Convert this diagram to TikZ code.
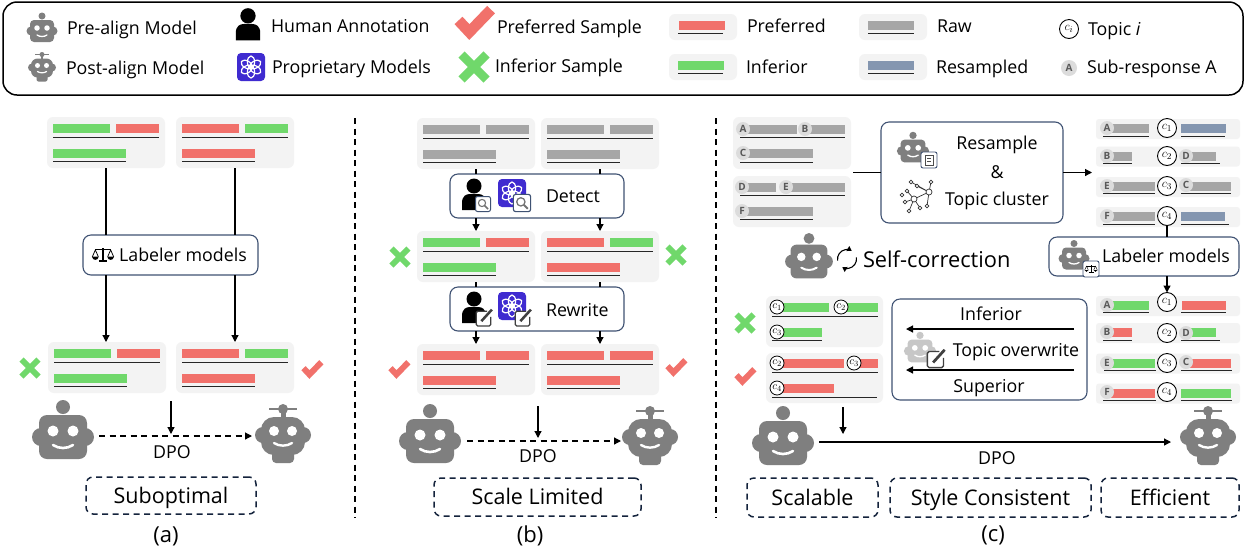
\documentclass[tikz,border=0pt]{standalone}
\usepackage{fontspec}
\setmainfont{Open Sans}
\usetikzlibrary{arrows.meta,calc}
\definecolor{cred}{HTML}{F1716B}
\definecolor{cgreen}{HTML}{70D86B}
\definecolor{cgray}{HTML}{A6A6A6}
\definecolor{cblue}{HTML}{8496B0}
\definecolor{ccard}{HTML}{F3F3F3}
\definecolor{cbot}{HTML}{7F7F7F}
\definecolor{cborder}{HTML}{3F5273}
\definecolor{cdash}{HTML}{14233C}
\definecolor{cpurple}{HTML}{3F2BD0}
\definecolor{cbadge}{HTML}{DCDCDC}
\newcounter{nn}
\newcommand\fs[1]{\fontsize{#1}{#1}\selectfont}
\tikzset{
  arr/.style={-{Triangle[length=7pt,width=7pt]},line width=1.2pt,black},
  plainline/.style={line width=1.2pt,black},
  cardbox/.style={fill=ccard,rounded corners=6pt,inner sep=0,outer sep=0},
  flowbox/.style={draw=cborder,line width=1.1pt,fill=white,rounded corners=8pt,inner sep=0,outer sep=0},
  dashbox/.style={draw=cdash,line width=1.5pt,dash pattern=on 6pt off 4.5pt,rounded corners=7pt,inner sep=0,outer sep=0,fill=white,font=\fs{21.5},text height=18pt,text depth=3pt},
  leg/.style={font=\fs{17.8},inner sep=0,outer sep=0,anchor=west,text height=16pt,text depth=2.5pt},
  txt/.style={font=\fs{17.8},inner sep=0,outer sep=0,text height=16pt,text depth=2.5pt},
  capt/.style={font=\fs{22},inner sep=0,outer sep=0,text height=18pt,text depth=3pt},
  badge/.style={circle,fill=cbadge,inner sep=0,outer sep=0,minimum size=14pt,text=black!65,font=\bfseries\fs{10}},
  topic/.style={circle,draw=black,line width=.9pt,fill=white,inner sep=0,outer sep=0,minimum size=19pt,font=\fs{12.5}},
  topics/.style={circle,draw=black,line width=.8pt,fill=white,inner sep=0,outer sep=0,minimum size=14pt,font=\fs{11}},
}
% bar + underline
\newcommand\sbar[4]{\fill[#1] (#2,#4-4.5) rectangle (#3,#4+4.5);}
\newcommand\sline[3]{\draw[line width=.9pt,black!85] (#1,#3) -- (#2,#3);}
\newcommand\samplecard[6]{%
  \node[cardbox,minimum width=118pt,minimum height=51pt] (#1) at (#2+59,#3+25.5) {};
  \sbar{#4}{#2+6}{#2+63}{#3+11.5}\sbar{#5}{#2+69}{#2+112}{#3+11.5}
  \sline{#2+6}{#2+112}{#3+20}
  \sbar{#6}{#2+6}{#2+79}{#3+36}
  \sline{#2+6}{#2+79}{#3+44}}
\newcommand\bdg[3]{\stepcounter{nn}\node[badge] (b\thenn) at (#1,#2) {#3};}
\newcommand\tpc[4]{\node[topic] (#1) at (#2,#3) {$c_{#4}$};}
\newcommand\tps[3]{\stepcounter{nn}\node[topics] (s\thenn) at (#1,#2) {$c_{#3}$};}
% robots
\newcommand\robotpre[4][cbot]{\begin{scope}[shift={(#2,#3)},scale=#4]
  \fill[#1] (0,-30) circle[radius=7];
  \fill[#1] (-22,0) circle[radius=9]; \fill[#1] (22,0) circle[radius=9];
  \fill[#1,rounded corners=#4*8pt] (-24,-22) rectangle (24,22);
  \fill[white] (-10,-6) circle[radius=5.5]; \fill[white] (10,-6) circle[radius=5.5];
  \draw[white,line width=#4*2.6pt,line cap=round] (-10,8) .. controls (-4,12) and (4,12) .. (10,8);
\end{scope}}
\newcommand\robotpost[3]{\begin{scope}[shift={(#1,#2)},scale=#3]
  \draw[cbot,line width=#3*2.2pt] (-14,-25) -- (14,-25);
  \fill[cbot] (0,-25) circle[radius=5];
  \fill[cbot] (-2.5,-25) rectangle (2.5,-14);
  \fill[cbot,rounded corners=#3*4pt] (-11,10) rectangle (11,29);
  \fill[cbot] (-20,1) circle[radius=8]; \fill[cbot] (20,1) circle[radius=8];
  \fill[cbot,rounded corners=#3*13pt] (-22,-17) rectangle (22,21);
  \fill[white] (-9,-3) circle[radius=5]; \fill[white] (9,-3) circle[radius=5];
  \draw[white,line width=#3*2.4pt,line cap=round] (-9,9) .. controls (-4,12.5) and (4,12.5) .. (9,9);
\end{scope}}
% marks
\newcommand\checkm[3]{\begin{scope}[shift={(#1,#2)},scale=#3]
  \draw[cred,line width=#3*7pt] (-10,-1) -- (-3,6.5) -- (11,-8);
\end{scope}}
\newcommand\crossm[3]{\begin{scope}[shift={(#1,#2)},scale=#3]
  \draw[cgreen,line width=#3*7pt] (-10,-10) -- (10,10) (-10,10) -- (10,-10);
\end{scope}}
\newcommand\human[3]{\begin{scope}[shift={(#1,#2)},scale=#3]
  \fill[black] (0,-9) circle[radius=7.5];
  \fill[black] (-12,15) -- (-12,8) .. controls (-12,1) and (-8,-1) .. (-4,-1) -- (4,-1) .. controls (8,-1) and (12,1) .. (12,8) -- (12,15) -- cycle;
\end{scope}}
\newcommand\gptlogo[3]{\begin{scope}[shift={(#1,#2)},scale=#3]
  \fill[cpurple,rounded corners=#3*4pt] (-14,-14) rectangle (14,14);
  \foreach \ang in {0,60,120,180,240,300}{
    \draw[white,line width=#3*1.2pt,rotate=\ang] (0,-5) ellipse[x radius=3.6,y radius=6];
  }
\end{scope}}
\newcommand\magbox[3]{\begin{scope}[shift={(#1,#2)},scale=#3]
  \draw[cborder,fill=white,line width=#3*1pt,rounded corners=#3*2pt] (-7.5,-7.5) rectangle (7.5,7.5);
  \draw[black!55,line width=#3*1.1pt] (-1,-1) circle[radius=3.6];
  \draw[black!55,line width=#3*1.6pt] (1.6,1.6) -- (5,5);
\end{scope}}
\newcommand\editbox[3]{\begin{scope}[shift={(#1,#2)},scale=#3]
  \draw[black!75,fill=white,line width=#3*1.2pt,rounded corners=#3*1.5pt] (3,-6.5) -- (-7.5,-6.5) -- (-7.5,7.5) -- (6.5,7.5) -- (6.5,-1);
  \draw[black!75,line width=#3*2.4pt] (-2.5,3) -- (7.5,-8);
\end{scope}}
\newcommand\scaleicon[4]{\begin{scope}[shift={(#1,#2)},scale=#3]
  \draw[#4,line width=#3*1.3pt] (0,-8) -- (0,7) (-5,7) -- (5,7) (-9,-6) -- (9,-6);
  \draw[#4,line width=#3*.9pt] (-9,-6) -- (-12.5,2) (-9,-6) -- (-5.5,2) (9,-6) -- (12.5,2) (9,-6) -- (5.5,2);
  \fill[#4] (-13,2) .. controls (-12,7) and (-6,7) .. (-5,2) -- cycle;
  \fill[#4] (5,2) .. controls (6,7) and (12,7) .. (13,2) -- cycle;
\end{scope}}
\begin{document}
\begin{tikzpicture}[x=1pt,y=-1pt]
\useasboundingbox (0,0) rectangle (1247,550);
\fill[white] (0,0) rectangle (1247,550);
%% LEGEND
\draw[black,line width=1.5pt,rounded corners=14pt] (3,2) rectangle (1243,95);
\robotpre{42}{31}{.5}
\robotpost{42}{67}{.5}
\node[leg] (l1) at (67,28) {Pre-align Model};
\node[leg] (l2) at (66,68) {Post-align Model};
\human{248}{25}{1.02}
\gptlogo{251}{67}{1}
\node[leg] (l3) at (271,26) {Human Annotation};
\node[leg] (l4) at (272,67) {Proprietary Models};
\checkm{474}{22}{1.55}
\crossm{474}{67}{1.25}
\node[leg] (l5) at (497,27) {Preferred Sample};
\node[leg] (l6) at (495,66) {Inferior Sample};
\node[cardbox,minimum width=68pt,minimum height=26pt] (lc1) at (703,27) {};
\sbar{cred}{679}{725}{25}\sline{678}{723}{33}
\node[cardbox,minimum width=68pt,minimum height=26pt] (lc2) at (703,67) {};
\sbar{cgreen}{678}{724}{65}\sline{678}{723}{73}
\node[cardbox,minimum width=68pt,minimum height=26pt] (lc3) at (893,27) {};
\sbar{cgray}{868}{914}{25}\sline{868}{914}{33}
\node[cardbox,minimum width=68pt,minimum height=26pt] (lc4) at (893,67) {};
\sbar{cblue}{868}{914}{65}\sline{868}{914}{73}
\node[leg] (l7) at (747,26) {Preferred};
\node[leg] (l8) at (746,67) {Inferior};
\node[leg] (l9) at (937,26) {Raw};
\node[leg] (l10) at (936,67) {Resampled};
\tpc{lt}{1069}{29}{i}
\node[badge,minimum size=16pt] (la) at (1069,68) {A};
\node[leg] (l11) at (1088,29) {Topic \emph{i}};
\node[leg] (l12) at (1087,67) {Sub-response A};
%% DIVIDERS
\coordinate (d1t) at (355,118); \coordinate (d1b) at (355,518);
\coordinate (d2t) at (716,118); \coordinate (d2b) at (716,518);
\draw[black,line width=1.2pt,dash pattern=on 6pt off 4.5pt] (d1t) -- (d1b);
\draw[black,line width=1.2pt,dash pattern=on 6pt off 4.5pt] (d2t) -- (d2b);
%% PANEL A
\samplecard{a1}{47}{117}{cgreen}{cred}{cgreen}
\samplecard{a2}{176}{117}{cred}{cgreen}{cred}
\samplecard{a3}{48}{342}{cgreen}{cred}{cgreen}
\samplecard{a4}{176}{342}{cred}{cgreen}{cred}
\node[flowbox,minimum width=175pt,minimum height=40pt] (alab) at (170.5,255) {};
\scaleicon{103}{255}{.85}{black}
\node[txt] (alabt) at (183,255) {Labeler models};
\draw[plainline] (a1.south) -- (a1.south |- alab.north);
\draw[plainline] (a2.south) -- (a2.south |- alab.north);
\draw[arr] (alab.south -| a1.south) -- (a3.north -| a1.south);
\draw[arr] (alab.south -| a2.south) -- (a4.north -| a2.south);
\crossm{30}{368}{.85}
\checkm{312}{369}{.85}
\robotpre{63}{437}{1}
\robotpost{283}{434}{1}
\coordinate (adpos) at (99,436); \coordinate (adpoe) at (252,436);
\coordinate (adown) at (171,401); \coordinate (adowne) at (171,434);
\draw[arr,dash pattern=on 6pt off 4.5pt] (adpos) -- (adpoe);
\draw[arr] (adown) -- (adowne);
\node[txt] (adpo) at (172,452) {DPO};
\node[dashbox,minimum width=170pt,minimum height=37pt] (asub) at (171,495.5) {Suboptimal};
\node[capt] (acap) at (166,535) {(a)};
%% PANEL B
\samplecard{b1}{417}{118}{cgray}{cgray}{cgray}
\samplecard{b2}{541}{118}{cgray}{cgray}{cgray}
\samplecard{b3}{417}{231}{cgreen}{cred}{cgreen}
\samplecard{b4}{541}{231}{cred}{cgreen}{cred}
\samplecard{b5}{417}{344}{cred}{cred}{cred}
\samplecard{b6}{541}{344}{cred}{cred}{cred}
\node[flowbox,minimum width=174pt,minimum height=44pt] (bdet) at (537,196) {};
\node[flowbox,minimum width=174pt,minimum height=44pt] (brew) at (537,309) {};
\human{474}{195}{1}
\magbox{483}{204}{1}
\gptlogo{512}{193}{1}
\magbox{522}{203}{1.15}
\node[txt,anchor=west] (bdt) at (546,196) {Detect};
\human{474}{308}{1}
\editbox{484}{318}{1.05}
\gptlogo{512}{306}{1}
\editbox{523}{318}{1.05}
\node[txt,anchor=west] (brt) at (546,310) {Rewrite};
\foreach \a/\b/\c in {b1/bdet/b3,b2/bdet/b4,b3/brew/b5,b4/brew/b6}{
  \draw[plainline] (\a.south) -- (\a.south |- \b.north);
  \draw[arr] (\a.south |- \b.south) -- (\c.north);
}
\crossm{400}{257}{.85}
\crossm{676}{255}{.85}
\checkm{399}{369}{.85}
\checkm{676}{367}{.85}
\robotpre{430}{441}{1}
\robotpost{650}{436}{1}
\coordinate (bdpos) at (467,441); \coordinate (bdpoe) at (621,441);
\coordinate (bdown) at (538,406); \coordinate (bdowne) at (538,438);
\draw[arr,dash pattern=on 6pt off 4.5pt] (bdpos) -- (bdpoe);
\draw[arr] (bdown) -- (bdowne);
\node[txt] (bdpo) at (538,456) {DPO};
\node[dashbox,minimum width=207pt,minimum height=38pt] (bsl) at (537.5,497) {Scale Limited};
\node[capt] (bcap) at (530,535) {(b)};
%% PANEL C - left cards
\node[cardbox,minimum width=118pt,minimum height=52pt] (c1) at (792,143) {};
\node[cardbox,minimum width=118pt,minimum height=51pt] (c2) at (792,201.5) {};
\sbar{cgray}{743}{797}{129}\sbar{cgray}{805}{845}{129}\sline{740}{845}{137}
\sbar{cgray}{743}{813}{153.5}\sline{740}{813}{162}
\sbar{cgray}{742}{776}{187}\sbar{cgray}{786}{845}{187}\sline{740}{845}{195}
\sbar{cgray}{742}{813}{211}\sline{740}{813}{219}
\bdg{743}{129}{A}\bdg{805}{129}{B}\bdg{743}{153}{C}
\bdg{742}{187}{D}\bdg{786}{187}{E}\bdg{742}{211}{F}
%% resample box
\node[flowbox,minimum width=182pt,minimum height=101pt] (res) at (972,172.5) {};
\coordinate (rin) at (853,172.5); \coordinate (rout) at (1092,172.5);
\draw[plainline] (rin) -- (res.west);
\draw[arr] (res.east) -- (rout);
\node[txt] (rt1) at (997,143) {Resample};
\node[txt] (rt2) at (997,172) {\&};
\node[txt] (rt3) at (997,199) {Topic cluster};
\robotpre{913}{151}{.52}
\begin{scope}[shift={(929,160)}]
  \draw[cborder,fill=white,line width=.9pt,rounded corners=2pt] (-8,-8) rectangle (8,8);
  \draw[black!70,line width=.8pt] (-4,-5) rectangle (4,5) (-2,-2) -- (2,-2) (-2,1) -- (2,1);
\end{scope}
\begin{scope}[shift={(915,197)},black!80,line width=.7pt]
  \draw (-1,2) -- (-8,-6) (-1,2) -- (-10,5) (-1,2) -- (-6,14) (-1,2) -- (5,11) (-1,2) -- (14,-5) (14,-5) -- (16,-15) (14,-5) -- (2,-11) (14,-5) -- (-4,-15) (14,-5) -- (12,9);
  \foreach \px/\py/\r in {-1/2/3,14/-5/3,-8/-6/1.8,-10/5/1.8,-13/-2/1.8,-6/14/1.8,5/11/1.8,12/9/1.8,16/-15/1.8,2/-11/1.8,-4/-15/1.8}{
    \draw[fill=white] (\px,\py) circle[radius=\r];
  }
\end{scope}
%% right upper rows
\foreach \nm/\yy in {r1/129,r2/156.5,r3/187,r4/217}{
  \node[cardbox,minimum width=144pt,minimum height=20pt,rounded corners=3pt] (\nm) at (1168,\yy) {};
}
\sbar{cgray}{1107}{1149}{128.5}\sline{1103}{1149}{136}
\sbar{cblue}{1181}{1226}{128.5}\sline{1181}{1225}{136}
\sbar{cgray}{1107}{1132}{156}\sline{1103}{1132}{163}
\sbar{cgray}{1186}{1216}{156}\sline{1181}{1220}{163}
\sbar{cgray}{1107}{1155}{186}\sline{1103}{1155}{193}
\sbar{cgray}{1186}{1231}{186}\sline{1181}{1231}{193}
\sbar{cgray}{1107}{1155}{216}\sline{1103}{1155}{224}
\sbar{cblue}{1181}{1225}{216}\sline{1181}{1229}{224}
\bdg{1107}{128}{A}\bdg{1107}{156}{B}\bdg{1107}{186}{E}\bdg{1107}{216}{F}
\bdg{1186}{156}{D}\bdg{1186}{185}{C}
\tpc{u1}{1167}{128}{1}\tpc{u2}{1167}{156}{2}\tpc{u3}{1167}{186}{3}\tpc{u4}{1167}{216}{4}
%% Labeler c
\node[flowbox,minimum width=190pt,minimum height=39pt] (clab) at (1144,256.5) {};
\draw[plainline] (u4.south) -- (u4.south |- clab.north);
\robotpre{1074}{258.5}{.5}
\begin{scope}[shift={(1091,269)}]
  \draw[cborder,fill=white,line width=.9pt,rounded corners=2pt] (-8,-8) rectangle (8,8);
\end{scope}
\scaleicon{1091}{269}{.5}{black}
\node[txt] (clabt) at (1166,256) {Labeler models};
%% self-correction
\robotpre{809}{261.5}{.77}
\begin{scope}[shift={(847,259)},x=1pt,y=1pt]
  \draw[black,line width=1.1pt,-{Triangle[length=4.5pt,width=5.5pt]}] (190:9.5) arc[start angle=190,end angle=60,radius=9.5];
  \draw[black,line width=1.1pt,-{Triangle[length=4.5pt,width=5.5pt]}] (10:9.5) arc[start angle=10,end angle=-120,radius=9.5];
\end{scope}
\node[txt,font=\fs{21.8},anchor=west,text height=20pt,text depth=3pt] (selfc) at (863,259) {Self-correction};
%% right lower rows
\foreach \nm/\yy in {q1/306,q2/333,q3/363.5,q4/393.5}{
  \node[cardbox,minimum width=144pt,minimum height=20pt,rounded corners=3pt] (\nm) at (1168,\yy) {};
}
\sbar{cgreen}{1107}{1149}{305}\sline{1103}{1149}{312}
\sbar{cred}{1182}{1226}{305}\sline{1181}{1226}{312}
\sbar{cred}{1107}{1132}{332}\sline{1103}{1132}{340}
\sbar{cgreen}{1186}{1216}{332}\sline{1181}{1220}{340}
\sbar{cgreen}{1107}{1155}{363}\sline{1104}{1156}{370.5}
\sbar{cred}{1186}{1231}{363}\sline{1181}{1232}{370.5}
\sbar{cred}{1107}{1155}{393}\sline{1103}{1156}{400.5}
\sbar{cgreen}{1181}{1231}{393}\sline{1181}{1232}{400.5}
\bdg{1107}{305}{A}\bdg{1107}{332}{B}\bdg{1107}{363}{E}\bdg{1107}{392}{F}
\bdg{1186}{333}{D}\bdg{1186}{362}{C}
\tpc{v1}{1167}{302}{1}\tpc{v2}{1167}{333}{2}\tpc{v3}{1167}{363}{3}\tpc{v4}{1167}{392}{4}
\draw[arr] (clab.south -| v1.north) -- (v1.north);
%% lower-left cards
\node[cardbox,minimum width=117pt,minimum height=51pt] (c3) at (824.5,321.5) {};
\node[cardbox,minimum width=117pt,minimum height=50pt] (c4) at (824.5,378) {};
\sbar{cgreen}{777}{829}{307.5}\sbar{cgreen}{841}{878}{307.5}\sline{772}{878}{316}
\sbar{cgreen}{777}{822}{332.5}\sline{772}{822}{340}
\sbar{cred}{777}{844}{363.5}\sbar{cred}{854}{878}{363.5}\sline{772}{878}{372}
\sbar{cred}{777}{834}{388.5}\sline{772}{877}{397}
\tps{777}{307}{1}\tps{841}{307}{2}\tps{777}{332}{3}
\tps{777}{363}{2}\tps{854}{363}{3}\tps{777}{388}{4}
\crossm{745}{323}{.85}
\checkm{745}{376}{.85}
%% topic box
\node[flowbox,minimum width=195pt,minimum height=101pt] (tbox) at (989.5,349.5) {};
\coordinate (ta1) at (1074,329); \coordinate (ta2) at (906,329);
\coordinate (tb1) at (1074,370); \coordinate (tb2) at (906,370);
\draw[arr] (ta1) -- (ta2);
\draw[arr] (tb1) -- (tb2);
\node[txt] (tt1) at (991,314) {Inferior};
\node[txt] (tt2) at (1016,350) {Topic overwrite};
\node[txt] (tt3) at (989,386) {Superior};
\robotpre[black!22]{920}{351}{.52}
\editbox{936}{359}{1.15}
%% bottom of c
\robotpre{783}{443}{1}
\robotpost{1208}{436}{1}
\coordinate (cdpos) at (819,442); \coordinate (cdpoe) at (1171,442);
\coordinate (cdown) at (843,407); \coordinate (cdowne) at (843,434);
\draw[arr] (cdpos) -- (cdpoe);
\draw[arr] (cdown) -- (cdowne);
\node[txt] (cdpo) at (997,458) {DPO};
\node[dashbox,minimum width=131pt,minimum height=39pt] (cs1) at (812.5,497.5) {Scalable};
\node[dashbox,minimum width=201pt,minimum height=39pt] (cs2) at (990.5,497.5) {Style Consistent};
\node[dashbox,minimum width=138pt,minimum height=39pt] (cs3) at (1170,497.5) {Efficient};
\node[capt] (ccap) at (993,534) {(c)};
\end{tikzpicture}
\end{document}
